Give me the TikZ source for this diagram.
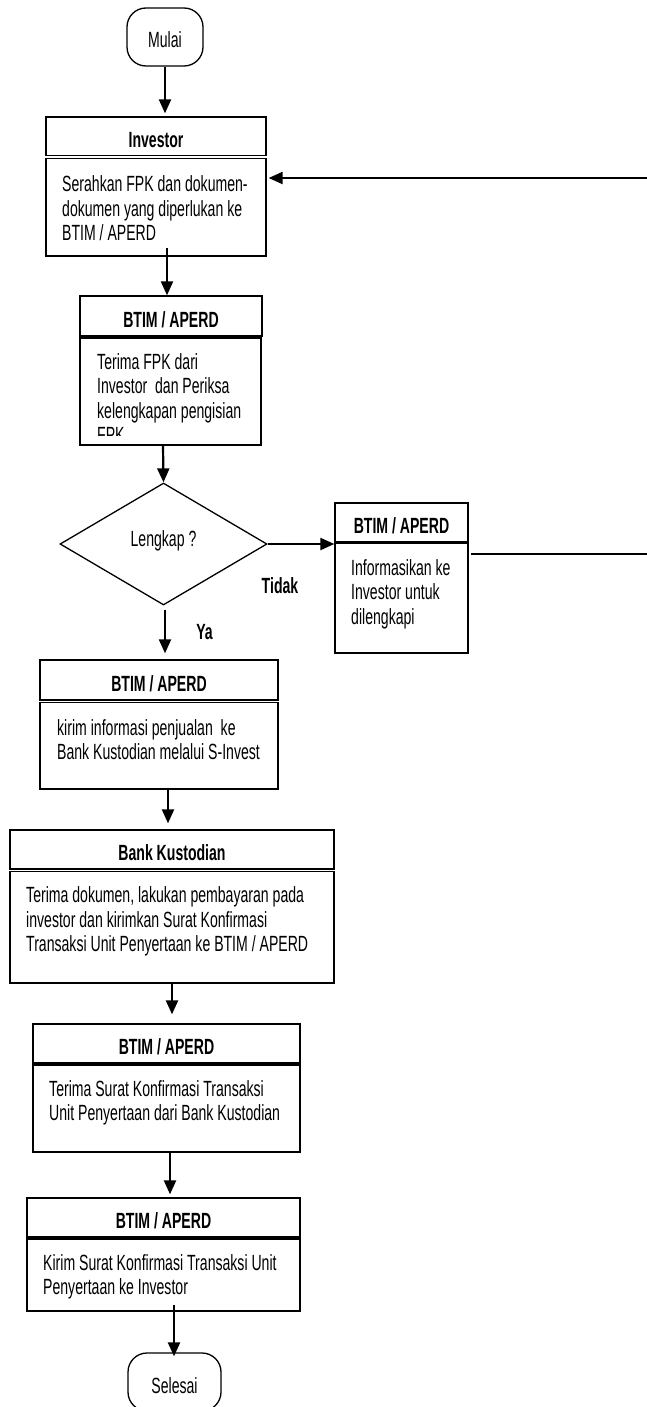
\documentclass[tikz,border=0pt]{standalone}
\usepackage{fontspec}
\setmainfont{Liberation Sans}[FakeStretch=0.64]
\usetikzlibrary{arrows.meta,shapes.geometric}

\begin{document}
\begin{tikzpicture}[x=1pt,y=-1pt,
    every node/.style={font=\fontsize{22}{24.5}\selectfont},
    headbox/.style={draw,line width=1.3pt,font=\fontsize{22}{24.5}\selectfont\bfseries,text height=22pt,text depth=0pt,inner sep=0pt},
    bodybox/.style={draw,line width=1.3pt,inner sep=0pt},
    bodytext/.style={anchor=north west,align=left,inner sep=0pt},
    terminal/.style={draw,line width=1.3pt,rounded corners=19pt,minimum height=58pt,text height=22pt,text depth=0pt,inner sep=0pt},
    decision/.style={draw,diamond,line width=1.3pt,inner sep=0pt,text height=16pt,text depth=12pt},
    flow/.style={line width=2.2pt,-{Triangle[length=14pt,width=12pt]}},
    lbl/.style={font=\fontsize{22}{24.5}\selectfont\bfseries}]
    \useasboundingbox (0,0) rectangle (646,1407);
    \node[terminal,minimum width=76pt] (mulai) at (165,37) {Mulai};
    \node[headbox,minimum width=220pt,minimum height=38.5pt] (invt) at (156,136.25) {Investor};
    \node[bodybox,minimum width=220pt,minimum height=97.5pt] (invb) at (156,207.25) {};
    \node[bodytext] (invx) at (62,175.7) {Serahkan FPK dan dokumen-\\dokumen yang diperlukan ke\\BTIM / APERD};
    \node[headbox,minimum width=182pt,minimum height=40pt] (b1t) at (171,316) {BTIM / APERD};
    \node[bodybox,minimum width=181pt,minimum height=107pt] (b1b) at (170.5,391.5) {};
    \begin{scope}
    \clip (80,338) rectangle (261,435.5);
    \node[bodytext] (b1x) at (97,353.3) {Terima FPK dari\\Investor\ \ dan Periksa\\kelengkapan pengisian\\FPK};
    \end{scope}
    \node[decision,minimum width=207pt,minimum height=122pt] (dia) at (163.5,544) {Lengkap ?};
    \node[headbox,minimum width=133pt,minimum height=39pt] (i1t) at (401.5,522.5) {BTIM / APERD};
    \node[bodybox,minimum width=133pt,minimum height=110pt] (i1b) at (401.5,598) {};
    \node[bodytext] (i1x) at (351,559.3) {Informasikan ke\\Investor untuk\\dilengkapi};
    \node[lbl] (tidak) at (280,585.5) {Tidak};
    \node[lbl] (ya) at (204.5,632) {Ya};
    \node[headbox,minimum width=238pt,minimum height=40pt] (b2t) at (159,680) {BTIM / APERD};
    \node[bodybox,minimum width=238pt,minimum height=86.5pt] (b2b) at (159,745.75) {};
    \node[bodytext] (b2x) at (57,719.3) {kirim informasi penjualan\ \ ke\\Bank Kustodian melalui S-Invest};
    \node[headbox,minimum width=324pt,minimum height=39pt] (bkt) at (172,849.5) {Bank Kustodian};
    \node[bodybox,minimum width=324pt,minimum height=111.5pt] (bkb) at (172,927.25) {};
    \node[bodytext] (bkx) at (26,886.7) {Terima dokumen, lakukan pembayaran pada\\investor dan kirimkan Surat Konfirmasi\\Transaksi Unit Penyertaan ke BTIM / APERD};
    \node[headbox,minimum width=267pt,minimum height=39pt] (b3t) at (166.5,1043.5) {BTIM / APERD};
    \node[bodybox,minimum width=267pt,minimum height=87pt] (b3b) at (166.5,1108.5) {};
    \node[bodytext] (b3x) at (49,1080) {Terima Surat Konfirmasi Transaksi\\Unit Penyertaan dari Bank Kustodian};
    \node[headbox,minimum width=273pt,minimum height=39pt] (b4t) at (163.5,1217.5) {BTIM / APERD};
    \node[bodybox,minimum width=273pt,minimum height=72pt] (b4b) at (163.5,1275) {};
    \node[bodytext] (b4x) at (43,1254) {Kirim Surat Konfirmasi Transaksi Unit\\Penyertaan ke Investor};
    \node[terminal,minimum width=93pt] (selesai) at (174.5,1382) {Selesai};
    \coordinate (fbr) at (650,554);
    \coordinate (fbt) at (650,178);
    \draw[flow,shorten >=3pt] (mulai.south) -- (mulai.south |- invt.north);
    \draw[flow] ([yshift=9pt]invb.south -| 167,0) -- (167,0 |- b1t.north);
    \draw[flow] (163,0 |- b1b.south) -- (dia.north);
    \draw[flow] (dia.east) -- (dia.east -| i1t.west);
    \draw[line width=1.6pt] ([xshift=2pt]i1b.east |- fbr) -- (fbr) -- (fbt);
    \draw[flow] (fbt) -- ([xshift=2pt]invb.east |- fbt);
    \draw[flow,shorten >=6pt] ([yshift=-4pt]dia.south -| 165,0) -- (165,0 |- b2t.north);
    \draw[flow,shorten >=6pt] (168,0 |- b2b.south) -- (168,0 |- bkt.north);
    \draw[flow,shorten >=9pt] (172,0 |- bkb.south) -- (172,0 |- b3t.north);
    \draw[flow,shorten >=3pt] (170,0 |- b3b.south) -- (170,0 |- b4t.north);
    \draw[flow] ([yshift=7pt]b4b.south -| 174,0) -- ([yshift=-4pt]selesai.north -| 174,0);
\end{tikzpicture}
\end{document}
